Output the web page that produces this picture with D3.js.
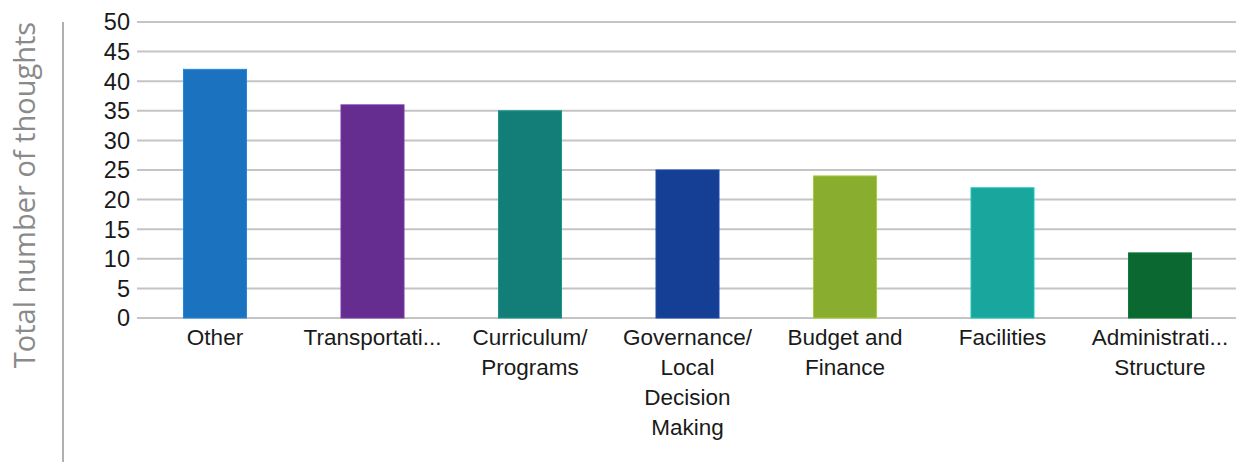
<!DOCTYPE html>
<html><head><meta charset="utf-8">
<script src="https://cdn.jsdelivr.net/npm/d3@7"></script>
<style>body{margin:0;background:#fff}svg{display:block}</style>
</head><body>
<svg id="c" width="1236" height="462"></svg>
<script>
const categories = ["Other","Transportation","Curriculum/Programs","Governance/Local Decision Making","Budget and Finance","Facilities","Administrative Structure"];
const labelLines = [["Other"],["Transportati..."],["Curriculum/","Programs"],["Governance/","Local","Decision","Making"],["Budget and","Finance"],["Facilities"],["Administrati...","Structure"]];
const values = [42,36,35,25,24,22,11];
const colors = ["#1b72be","#652d90","#137e78","#143f94","#88ad2f","#19a79d","#0b6830"];
const yTicks = [0,5,10,15,20,25,30,35,40,45,50];
const yTitle = "Total number of thoughts";

const svg = d3.select("#c");
const x = d3.scaleBand().domain(categories).range([136.25, 1238.75]).paddingInner(0.6).paddingOuter(0.3);
const y = d3.scaleLinear().domain([0,50]).range([318,22]);

// gridlines
svg.append("g").selectAll("line").data(yTicks).join("line")
  .attr("x1",137).attr("x2",1236).attr("y1",d=>y(d)).attr("y2",d=>y(d))
  .attr("stroke","#c4c4c4").attr("stroke-width",2);

// y tick labels
svg.append("g").selectAll("text").data(yTicks).join("text")
  .attr("x",130).attr("y",d=>y(d)).attr("dy","0.36em").attr("text-anchor","end")
  .attr("font-family","Liberation Sans, Arial, sans-serif").attr("font-size",23.5).attr("fill","#1a1a1a")
  .text(d=>d);

// bars
svg.append("g").selectAll("rect").data(values).join("rect")
  .attr("x",(d,i)=>x(categories[i])).attr("width",x.bandwidth())
  .attr("y",d=>y(d)).attr("height",d=>y(0)-y(d))
  .attr("fill",(d,i)=>colors[i]).attr("stroke",(d,i)=>d3.color(colors[i]).brighter(0.5)).attr("stroke-width",1);

// category labels
const lg = svg.append("g");
categories.forEach((c,i)=>{
  const cx = x(c)+x.bandwidth()/2;
  const t = lg.append("text").attr("text-anchor","middle")
    .attr("font-family","Liberation Sans, Arial, sans-serif").attr("font-size",22.5).attr("fill","#1a1a1a");
  labelLines[i].forEach((l,j)=>{
    t.append("tspan").attr("x",cx).attr("y",345+j*30).text(l);
  });
});

// y title
svg.append("text").attr("transform","translate(35,195) rotate(-90)").attr("text-anchor","middle")
  .attr("font-family","Open Sans, Lato, sans-serif").attr("font-size",29).attr("fill","#8a8a8a")
  .text(yTitle);
svg.append("line").attr("x1",63).attr("x2",63).attr("y1",22).attr("y2",462).attr("stroke","#b0b0b0").attr("stroke-width",2);
</script>
</body></html>
